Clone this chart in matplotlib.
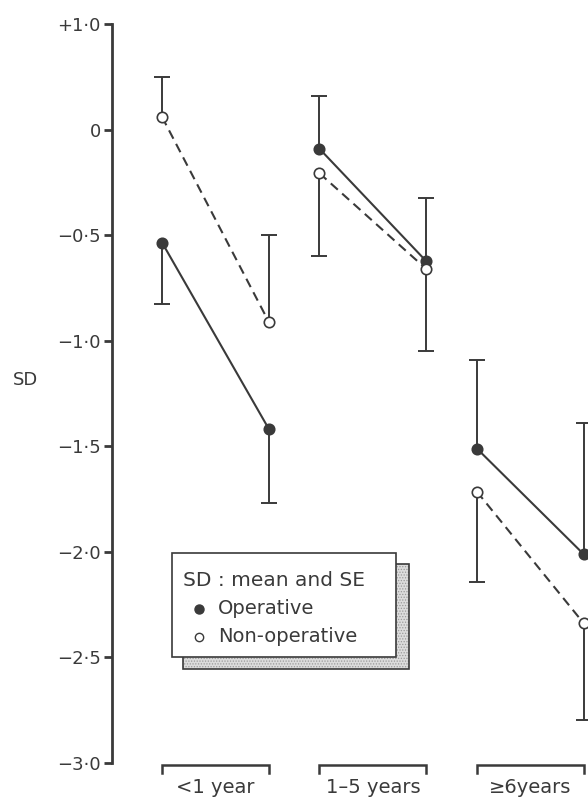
import matplotlib
matplotlib.use("Agg")
import matplotlib.pyplot as plt
from matplotlib.patches import Rectangle
from matplotlib.lines import Line2D

# ---------------- data ----------------
groups = ["<1 year", "1\u20135 years", "\u22656years"]
group_base = [0.0, 1.476, 2.952]          # position of first point of each group
within = [0.0, 1.0]                       # two time points within each group

op_mean = [[-0.535, -1.417], [-0.091, -0.623], [-1.511, -2.011]]
op_se = [[0.29, 0.35], [0.25, 0.30], [0.42, 0.62]]
op_dir = [["down", "down"], ["up", "up"], ["up", "up"]]

non_mean = [[0.06, -0.91], [-0.207, -0.66], [-1.715, -2.338]]
non_se = [[0.19, 0.41], [0.39, 0.39], [0.43, 0.46]]
non_dir = [["up", "up"], ["down", "down"], ["down", "down"]]

ytick_vals = [0.5, 0.0, -0.5, -1.0, -1.5, -2.0, -2.5, -3.0]
ytick_labels = ["+1\u00b70", "0", "\u22120\u00b75", "\u22121\u00b70", "\u22121\u00b75",
                "\u22122\u00b70", "\u22122\u00b75", "\u22123\u00b70"]

# ---------------- figure ----------------
plt.rcParams["font.family"] = ["DejaVu Sans"]
INK = "#3a3a3a"
W, H = 588, 800
fig = plt.figure(figsize=(W / 100, H / 100), dpi=100)
fig.patch.set_facecolor("white")
ax = fig.add_axes([112 / W, 1 - 763 / H, 1 - 112 / W, 739 / H])
ax.set_xlim(-0.469, 3.993)
ax.set_ylim(-3.0, 0.5)
for s in ["top", "right", "bottom"]:
    ax.spines[s].set_visible(False)
ax.spines["left"].set_linewidth(2.0)
ax.spines["left"].set_color(INK)
ax.set_xticks([])
ax.set_yticks(ytick_vals)
ax.set_yticklabels(ytick_labels, fontsize=13, color=INK)
ax.tick_params(axis="y", direction="out", length=6, width=2.0, color=INK, pad=2)

def draw_series(means, ses, dirs, filled, dashed):
    for g, base in enumerate(group_base):
        xs = [base + w for w in within]
        ys = means[g]
        ax.plot(xs, ys, color=INK, lw=1.5,
                linestyle=(0, (4.5, 2.8)) if dashed else "-", zorder=2)
        for x, y, se, d in zip(xs, ys, ses[g], dirs[g]):
            end = y + se if d == "up" else y - se
            ax.vlines(x, y, end, color=INK, lw=1.4, zorder=1)
            ax.plot([x], [end], marker="_", ms=11, mew=1.4, color=INK, zorder=1)
        ax.plot(xs, ys, linestyle="none", marker="o", ms=7.5,
                mfc=INK if filled else "white", mec=INK, mew=1.2, zorder=3)

draw_series(op_mean, op_se, op_dir, True, False)
draw_series(non_mean, non_se, non_dir, False, True)

# group brackets and labels below axis
for g, base in enumerate(group_base):
    x0, x1 = base + within[0], base + within[1]
    ax.plot([x0, x0, x1, x1], [-3.045, -3.01, -3.01, -3.045], color=INK,
            lw=1.8, clip_on=False, solid_joinstyle="miter")
    ax.text((x0 + x1) / 2, -3.118, groups[g], ha="center", va="center",
            fontsize=14, color=INK, clip_on=False)

# y label
fig.text(25 / W, 1 - 380 / H, "SD", ha="center", va="center", fontsize=13, color=INK)

# legend box with shadow
def fr(x0, y0, x1, y1):
    return (x0 / W, 1 - y1 / H), (x1 - x0) / W, (y1 - y0) / H

plt.rcParams["hatch.linewidth"] = 0.6
xy, w, h = fr(183, 564, 409, 669)
fig.patches.append(Rectangle(xy, w, h, transform=fig.transFigure, facecolor="#dcdcdc",
                             edgecolor="#9a9a9a", hatch="......", lw=0, zorder=5))
fig.patches.append(Rectangle(xy, w, h, transform=fig.transFigure, facecolor="none",
                             edgecolor=INK, lw=1.2, zorder=6))
xy, w, h = fr(172, 553, 396, 657)
fig.patches.append(Rectangle(xy, w, h, transform=fig.transFigure, facecolor="white",
                             edgecolor=INK, lw=1.2, zorder=7))
fig.text(183 / W, 1 - 580 / H, "SD : mean and SE", ha="left", va="center",
         fontsize=14.5, color=INK, zorder=8)
fig.lines.append(Line2D([199 / W], [1 - 609 / H], transform=fig.transFigure, marker="o",
                        ms=6.5, mfc=INK, mec=INK, mew=1.0, linestyle="none", zorder=8))
fig.text(218 / W, 1 - 609 / H, "Operative", ha="left", va="center",
         fontsize=14, color=INK, zorder=8)
fig.lines.append(Line2D([199 / W], [1 - 637 / H], transform=fig.transFigure, marker="o",
                        ms=6.0, mfc="white", mec=INK, mew=1.0, linestyle="none", zorder=8))
fig.text(218 / W, 1 - 637 / H, "Non-operative", ha="left", va="center",
         fontsize=14, color=INK, zorder=8)

fig.savefig("out.png", dpi=100)
